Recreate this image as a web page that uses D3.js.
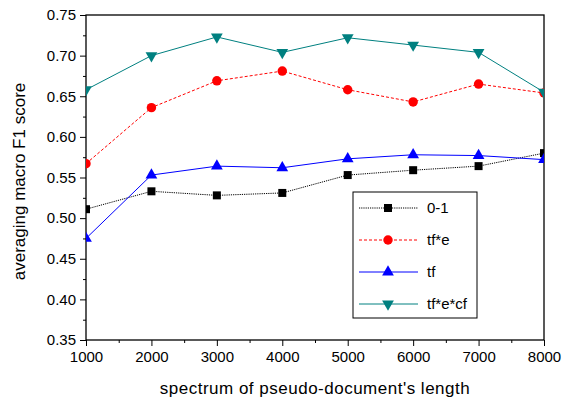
<!DOCTYPE html>
<html>
<head>
<meta charset="utf-8">
<script src="https://cdn.jsdelivr.net/npm/d3@7/dist/d3.min.js"></script>
<style>
  body { margin: 0; background: #fff; }
  text { font-family: "Liberation Sans", Arial, sans-serif; }
</style>
</head>
<body>
<div class="container"></div>
<script>
// data
var lengths = [1000, 2000, 3000, 4000, 5000, 6000, 7000, 8000];
var zeroOne = [0.511, 0.533, 0.528, 0.531, 0.553, 0.559, 0.564, 0.580];
var tfE = [0.567, 0.636, 0.669, 0.681, 0.658, 0.643, 0.665, 0.654];
var tf = [0.475, 0.553, 0.564, 0.562, 0.573, 0.578, 0.577, 0.572];
var tfEcf = [0.658, 0.700, 0.723, 0.704, 0.722, 0.713, 0.704, 0.655];
var yTicks = [0.35, 0.40, 0.45, 0.50, 0.55, 0.60, 0.65, 0.70, 0.75];
var seriesNames = ["0-1", "tf*e", "tf", "tf*e*cf"];

var width = 562, height = 402;
var margin = {left: 86, right: 18, top: 15, bottom: 62};

var series = [
  {name: seriesNames[0], values: zeroOne, color: "#000000", dash: "1.2,1", shape: "square"},
  {name: seriesNames[1], values: tfE, color: "#ff0000", dash: "3,2", shape: "circle"},
  {name: seriesNames[2], values: tf, color: "#0000ff", dash: null, shape: "up"},
  {name: seriesNames[3], values: tfEcf, color: "#008080", dash: null, shape: "down"}
];

var x = d3.scaleLinear().domain([1000, 8000]).range([margin.left, width - margin.right]);
var y = d3.scaleLinear().domain([0.35, 0.75]).range([height - margin.bottom, margin.top]);

var svg = d3.select(".container").append("svg")
    .attr("xmlns", "http://www.w3.org/2000/svg")
    .attr("width", width)
    .attr("height", height);

svg.append("defs").append("clipPath").attr("id", "plotclip")
  .append("rect")
    .attr("x", margin.left).attr("y", margin.top)
    .attr("width", width - margin.left - margin.right)
    .attr("height", height - margin.top - margin.bottom);

// axes
var xAxis = d3.axisBottom(x).tickValues(lengths).tickSize(6).tickPadding(5).tickFormat(d3.format("d"));
var xMinor = d3.axisBottom(x).tickValues(d3.range(1500, 8000, 1000)).tickSize(3).tickFormat("");
var yAxis = d3.axisLeft(y).tickValues(yTicks).tickSize(6).tickPadding(4).tickFormat(d3.format(".2f"));
var yMinor = d3.axisLeft(y).tickValues(d3.range(0.375, 0.75, 0.05)).tickSize(3).tickFormat("");

function styleAxis(g) {
  g.select(".domain").remove();
  g.selectAll("line").attr("stroke", "#000").attr("stroke-width", 1);
  g.selectAll("text").attr("fill", "#000").style("font-size", "15px");
}

svg.append("g").attr("transform", "translate(0," + y(0.35) + ")").call(xAxis).call(styleAxis);
svg.append("g").attr("transform", "translate(0," + y(0.35) + ")").call(xMinor).call(styleAxis);
svg.append("g").attr("transform", "translate(" + x(1000) + ",0)").call(yAxis).call(styleAxis);
svg.append("g").attr("transform", "translate(" + x(1000) + ",0)").call(yMinor).call(styleAxis);

svg.append("rect")
    .attr("x", x(1000)).attr("y", y(0.75))
    .attr("width", x(8000) - x(1000)).attr("height", y(0.35) - y(0.75))
    .attr("fill", "none").attr("stroke", "#000").attr("stroke-width", 1.3);

svg.append("text")
    .attr("x", (x(1000) + x(8000)) / 2).attr("y", 394)
    .attr("text-anchor", "middle").style("font-size", "17px")
    .style("letter-spacing", "0.5px")
    .text("spectrum of pseudo-document's length");

svg.append("text")
    .attr("transform", "translate(25," + (y(0.55) + 4) + ") rotate(-90)")
    .attr("text-anchor", "middle").style("font-size", "17px")
    .text("averaging macro F1 score");

function symbolPath(shape) {
  if (shape === "square") return d3.symbol(d3.symbolSquare, 64)();
  if (shape === "circle") return d3.symbol(d3.symbolCircle, 70)();
  return d3.symbol(d3.symbolTriangle, 60)();
}
function symbolTransform(shape, px, py) {
  var t = "translate(" + px + "," + py + ")";
  if (shape === "down") t += " rotate(180)";
  return t;
}

var plot = svg.append("g").attr("clip-path", "url(#plotclip)");
var line = d3.line().x(function (d, i) { return x(lengths[i]); }).y(function (d) { return y(d); });

series.forEach(function (s) {
  plot.append("path")
      .attr("d", line(s.values))
      .attr("fill", "none")
      .attr("stroke", s.color)
      .attr("stroke-width", 1)
      .attr("stroke-dasharray", s.dash);
  plot.selectAll(null).data(s.values).enter().append("path")
      .attr("d", symbolPath(s.shape))
      .attr("transform", function (d, i) { return symbolTransform(s.shape, x(lengths[i]), y(d)); })
      .attr("fill", s.color);
});

// legend
var legend = svg.append("g");
legend.append("rect")
    .attr("x", 353).attr("y", 192).attr("width", 124).attr("height", 126)
    .attr("fill", "#fff").attr("stroke", "#000").attr("stroke-width", 1);
var legendY = d3.scalePoint().domain(seriesNames).range([208, 304]);
series.forEach(function (s) {
  var ly = legendY(s.name);
  legend.append("line")
      .attr("x1", 359).attr("x2", 418).attr("y1", ly).attr("y2", ly)
      .attr("stroke", s.color).attr("stroke-width", 1)
      .attr("stroke-dasharray", s.dash);
  legend.append("path")
      .attr("d", symbolPath(s.shape))
      .attr("transform", symbolTransform(s.shape, 388, ly))
      .attr("fill", s.color);
  legend.append("text")
      .attr("x", 427).attr("y", ly + 5)
      .style("font-size", "15px")
      .text(s.name);
});
</script>
</body>
</html>
